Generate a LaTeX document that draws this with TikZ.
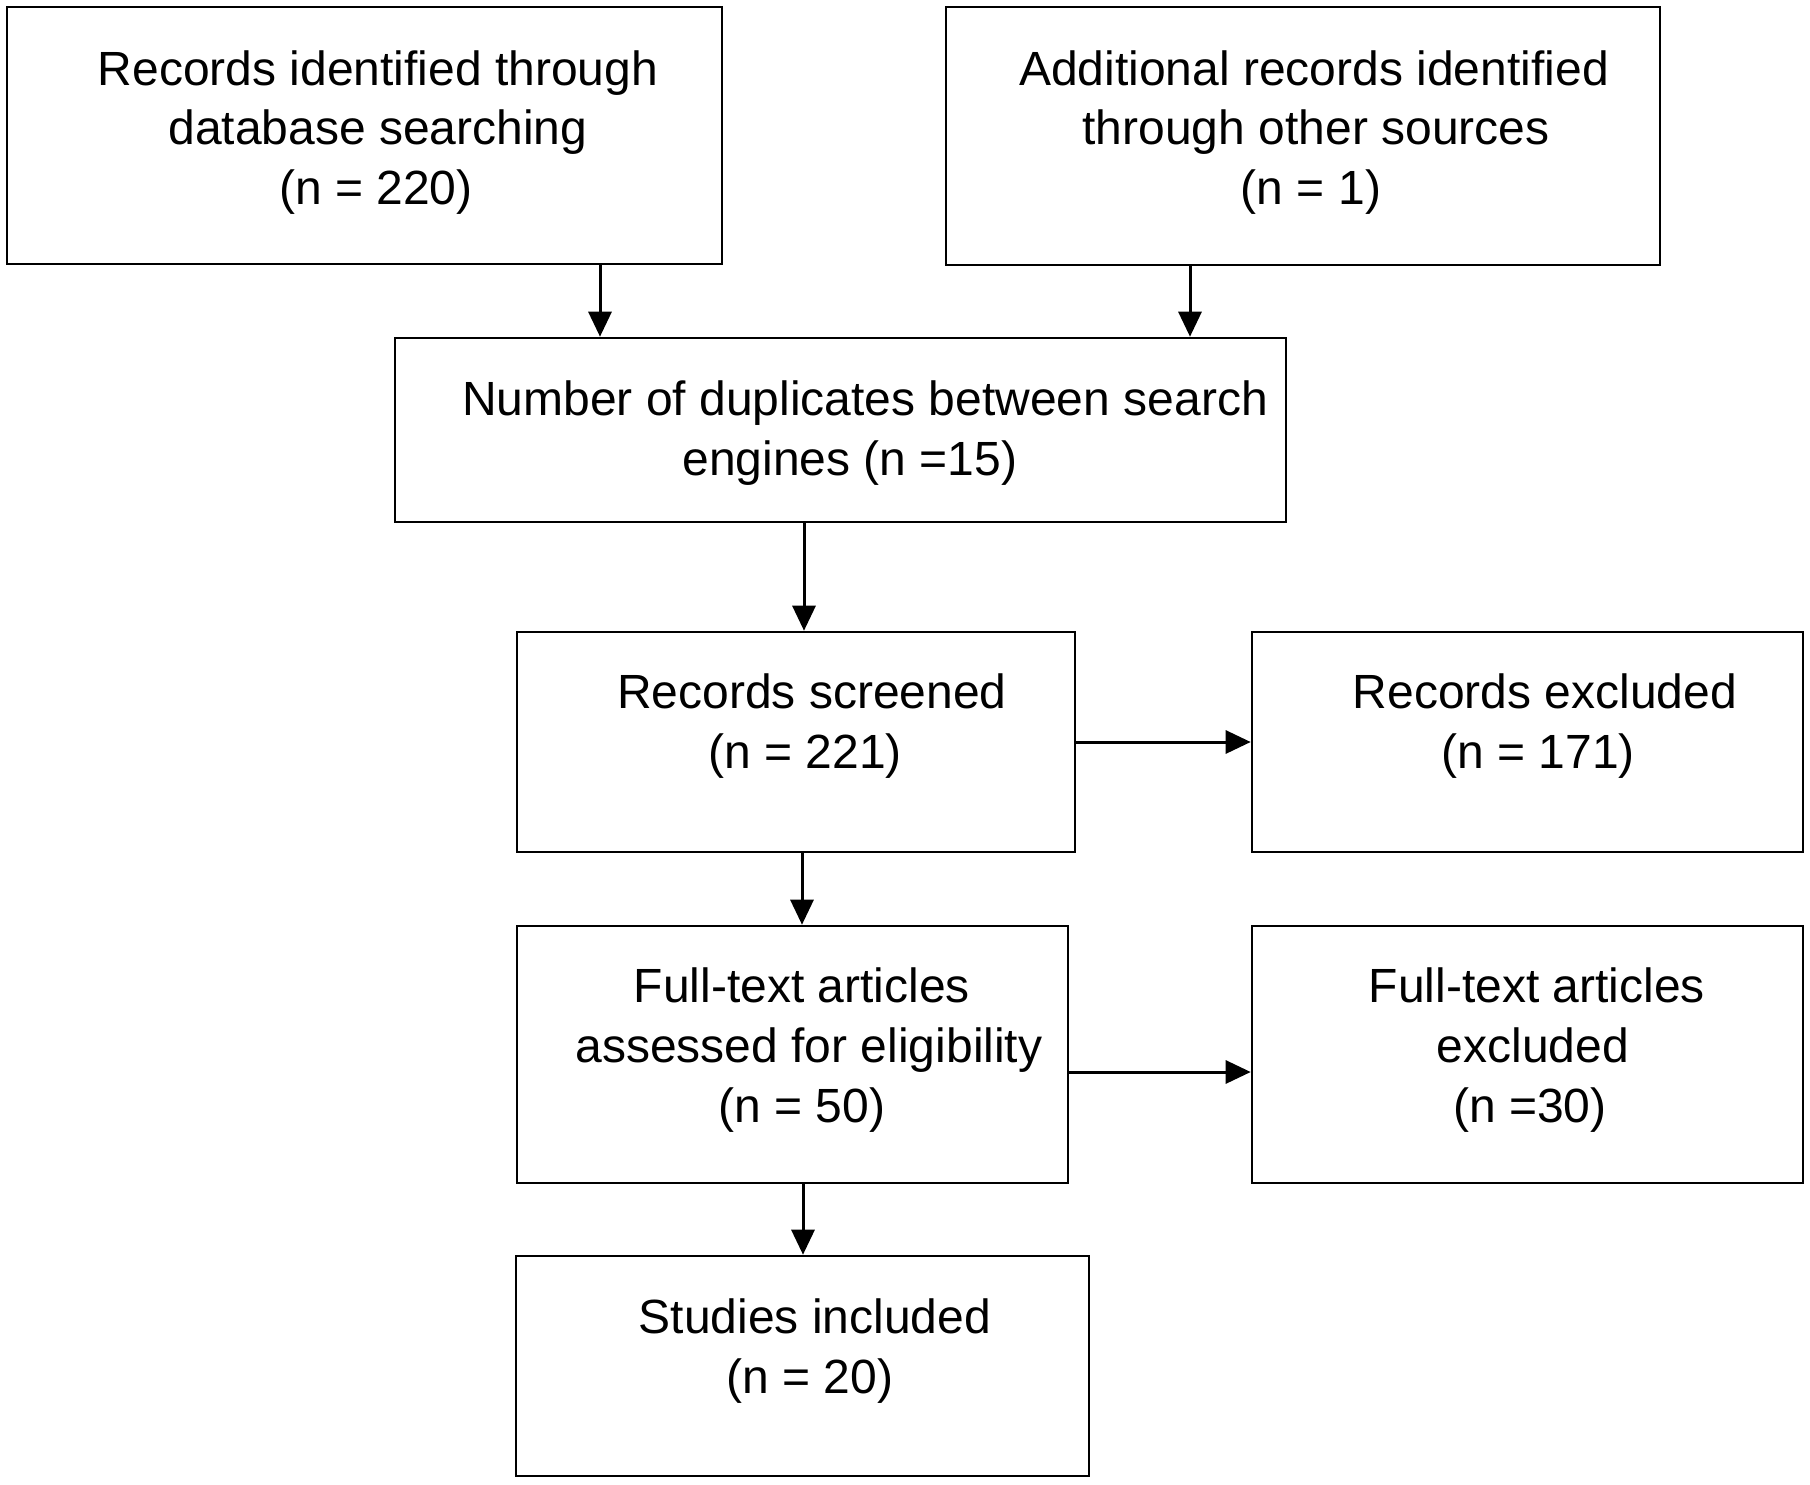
\documentclass[tikz,border=0pt]{standalone}
\usepackage{fontspec}
\setmainfont{Liberation Sans}
\usetikzlibrary{arrows.meta,fit}
\begin{document}
\begin{tikzpicture}[x=0.5pt,y=-0.5pt,
  box/.style={draw, line width=1.3pt, inner sep=0pt, rectangle},
  txt/.style={anchor=base, inner sep=0pt, font=\fontsize{24}{30}\selectfont},
  arr/.style={line width=1.5pt, -{Triangle[length=12.5pt,width=11.5pt]}}]
\useasboundingbox (0,0) rectangle (1810,1484);

% boxes
\node[box, fit={(7,7) (722,264)}] (b1) {};
\node[box, fit={(946,7) (1660,265)}] (b2) {};
\node[box, fit={(395,338) (1286,522)}] (b3) {};
\node[box, fit={(517,632) (1075,852)}] (b4) {};
\node[box, fit={(1252,632) (1803,852)}] (b5) {};
\node[box, fit={(517,926) (1068,1183)}] (b6) {};
\node[box, fit={(1252,926) (1803,1183)}] (b7) {};
\node[box, fit={(516,1256) (1089,1476)}] (b8) {};

% texts
\node[txt] (t1a) at (378,85) {Records identified through};
\node[txt] (t1b) at (378,144) {database searching};
\node[txt] (t1c) at (376,204) {(n = 220)};

\node[txt] (t2a) at (1314,85) {Additional records identified};
\node[txt] (t2b) at (1316,144) {through other sources};
\node[txt] (t2c) at (1311,204) {(n = 1)};

\node[txt] (t3a) at (865,415) {Number of duplicates between search};
\node[txt] (t3b) at (850,475) {engines (n =15)};

\node[txt] (t4a) at (812,708) {Records screened};
\node[txt] (t4b) at (805,768) {(n = 221)};

\node[txt] (t5a) at (1545,708) {Records excluded};
\node[txt] (t5b) at (1538,768) {(n = 171)};

\node[txt] (t6a) at (802,1002) {Full-text articles};
\node[txt] (t6b) at (809,1062) {assessed for eligibility};
\node[txt] (t6c) at (802,1122) {(n = 50)};

\node[txt] (t7a) at (1537,1002) {Full-text articles};
\node[txt] (t7b) at (1533,1062) {excluded};
\node[txt] (t7c) at (1530,1122) {(n =30)};

\node[txt] (t8a) at (815,1333) {Studies included};
\node[txt] (t8b) at (810,1393) {(n = 20)};

% connectors
\coordinate (c1) at (600,0);
\coordinate (c2) at (1190,0);
\coordinate (c3) at (804,0);
\coordinate (c4) at (802,0);
\coordinate (c5) at (803,0);
\coordinate (r1) at (0,742);
\coordinate (r2) at (0,1072);

\draw[arr] (b1.south -| c1) -- (b3.north -| c1);
\draw[arr] (b2.south -| c2) -- (b3.north -| c2);
\draw[arr] (b3.south -| c3) -- (b4.north -| c3);
\draw[arr] (b4.south -| c4) -- (b6.north -| c4);
\draw[arr] (b6.south -| c5) -- (b8.north -| c5);
\draw[arr] (b4.east |- r1) -- (b5.west |- r1);
\draw[arr] (b6.east |- r2) -- (b7.west |- r2);
\end{tikzpicture}
\end{document}
